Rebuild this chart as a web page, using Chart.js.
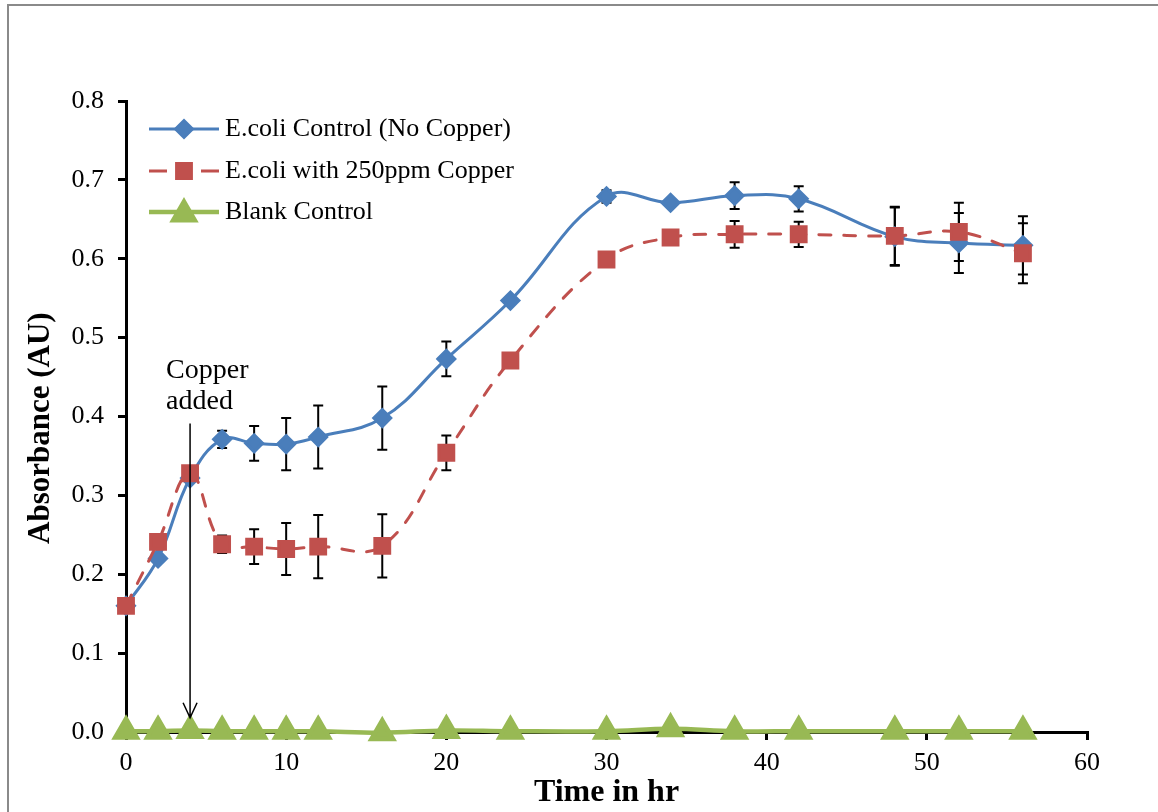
<!DOCTYPE html>
<html>
<head>
<meta charset="utf-8">
<script src="https://cdn.jsdelivr.net/npm/chart.js@4.4.1/dist/chart.umd.min.js"></script>
<style>
  body { margin: 0; background: #fff; overflow: hidden; }
  #wrap { position: relative; width: 1158px; height: 812px; }
  #frame { position: absolute; left: 7px; top: 4px; width: 1300px; height: 1000px;
           border-left: 2px solid #8a8a8a; border-top: 2px solid #8a8a8a; }
  canvas { position: absolute; left: 0; top: 0; }
</style>
</head>
<body>
<div id="wrap">
  <div id="frame"></div>
  <canvas id="growth" width="1158" height="812"></canvas>
</div>
<script>
// sampling times (hr)
const times = [0, 2, 4, 6, 8, 10, 12, 16, 20, 24, 30, 34, 38, 42, 48, 52, 56];

// absorbance readings
const control    = [0.160, 0.220, 0.322, 0.371, 0.366, 0.365, 0.374, 0.398, 0.473, 0.547, 0.679, 0.671, 0.680, 0.676, 0.628, 0.620, 0.617];
const controlErr = [0.003, 0.005, 0.005, 0.011, 0.022, 0.033, 0.040, 0.040, 0.022, 0.003, 0.008, 0.002, 0.017, 0.016, 0.037, 0.038, 0.037];
const copper     = [0.160, 0.241, 0.328, 0.238, 0.235, 0.232, 0.235, 0.236, 0.354, 0.471, 0.599, 0.627, 0.631, 0.631, 0.629, 0.634, 0.607];
const copperErr  = [0.003, 0.004, 0.004, 0.011, 0.022, 0.033, 0.040, 0.040, 0.022, 0.002, 0.003, 0.003, 0.017, 0.016, 0.037, 0.037, 0.038];
const blank      = [0.001, 0.001, 0.002, 0.001, 0.001, 0.001, 0.001, -0.001, 0.002, 0.001, 0.001, 0.004, 0.001, 0.001, 0.001, 0.001, 0.001];

// axis ticks
const xTicks = [0, 10, 20, 30, 40, 50, 60];
const yTicks = [0.0, 0.1, 0.2, 0.3, 0.4, 0.5, 0.6, 0.7, 0.8];

const seriesNames = ['E.coli Control (No Copper)', 'E.coli with 250ppm Copper', 'Blank Control'];
const copperAddedAt = 4;

const BLUE = '#4A7EBB', RED = '#C0504D', GREEN = '#98B954';
const SERIF = "'Liberation Serif', 'Times New Roman', serif";

Chart.defaults.font.family = SERIF;
Chart.defaults.color = '#000';

const toXY = vals => vals.map((v, i) => ({ x: times[i], y: v }));

// error bars, drawn under the lines and markers
const errorBars = {
  id: 'errorBars',
  beforeDatasetsDraw(chart) {
    const { ctx, scales: { x, y } } = chart;
    ctx.save();
    ctx.strokeStyle = '#000';
    ctx.lineWidth = 2;
    chart.data.datasets.forEach(ds => {
      if (!ds.errors) return;
      ds.data.forEach((p, i) => {
        const e = ds.errors[i];
        const px = x.getPixelForValue(p.x);
        const top = y.getPixelForValue(p.y + e);
        const bot = y.getPixelForValue(p.y - e);
        ctx.beginPath();
        ctx.moveTo(px, top); ctx.lineTo(px, bot);
        ctx.moveTo(px - 5, top); ctx.lineTo(px + 5, top);
        ctx.moveTo(px - 5, bot); ctx.lineTo(px + 5, bot);
        ctx.stroke();
      });
    });
    ctx.restore();
  }
};

// "Copper added" note with the arrow
const copperNote = {
  id: 'copperNote',
  afterDatasetsDraw(chart) {
    const { ctx, scales: { x, y } } = chart;
    const ax = x.getPixelForValue(copperAddedAt);
    const y1 = y.getPixelForValue(0.391);
    const y2 = y.getPixelForValue(0.018);
    ctx.save();
    ctx.strokeStyle = '#000';
    ctx.lineWidth = 1.5;
    ctx.beginPath();
    ctx.moveTo(ax, y1); ctx.lineTo(ax, y2);
    ctx.moveTo(ax - 7, y2 - 15); ctx.lineTo(ax, y2); ctx.lineTo(ax + 7, y2 - 15);
    ctx.stroke();
    ctx.fillStyle = '#000';
    ctx.font = '28px ' + SERIF;
    ctx.textAlign = 'left';
    ctx.textBaseline = 'alphabetic';
    const tx = x.getPixelForValue(2.5);
    ctx.fillText('Copper', tx, y.getPixelForValue(0.449));
    ctx.fillText('added', tx, y.getPixelForValue(0.409));
    ctx.restore();
  }
};

// Excel style legend: line sample with marker in the middle
const lineLegend = {
  id: 'lineLegend',
  afterDraw(chart) {
    const { ctx } = chart;
    const x0 = 149, x1 = 219, rows = [129, 171, 212];
    ctx.save();
    chart.data.datasets.forEach((ds, i) => {
      const yy = rows[i];
      ctx.strokeStyle = ds.borderColor;
      ctx.lineWidth = ds.borderWidth;
      ctx.lineCap = 'butt';
      ctx.setLineDash(ds.borderDash && ds.borderDash.length ? [18, 34] : []);
      ctx.beginPath();
      ctx.moveTo(x0, yy); ctx.lineTo(x1, yy);
      ctx.stroke();
      ctx.setLineDash([]);
      Chart.helpers.drawPoint(ctx, {
        pointStyle: ds.pointStyle, radius: ds.pointRadius, borderWidth: 1, rotation: 0
      }, (x0 + x1) / 2, yy + (ds.pointStyle === 'triangle' ? 2 : 0));
      ctx.fillStyle = ds.pointBackgroundColor;
      ctx.strokeStyle = ds.pointBorderColor;
      ctx.lineWidth = 1;
      ctx.fill();
      ctx.stroke();
      ctx.fillStyle = '#000';
      ctx.font = '26px ' + SERIF;
      ctx.textBaseline = 'middle';
      ctx.fillText(seriesNames[i], 225, yy);
    });
    ctx.restore();
  }
};

const axisLine = { color: '#000', width: 3 };
const tickGrid = { drawOnChartArea: false, drawTicks: true, tickLength: 8, color: '#000', lineWidth: 3 };

new Chart(document.getElementById('growth'), {
  type: 'line',
  data: {
    datasets: [{
      label: seriesNames[0],
      data: toXY(control),
      errors: controlErr,
      borderColor: BLUE,
      borderWidth: 3,
      pointStyle: 'rectRot',
      pointRadius: 8.5,
      pointBackgroundColor: BLUE,
      pointBorderColor: BLUE,
      tension: 0.4,
      clip: false,
      order: 2
    }, {
      label: seriesNames[1],
      data: toXY(copper),
      errors: copperErr,
      borderColor: RED,
      borderWidth: 3,
      borderDash: [12, 13],
      borderCapStyle: 'round',
      pointStyle: 'rect',
      pointRadius: 10.5,
      pointBackgroundColor: RED,
      pointBorderColor: RED,
      tension: 0.4,
      clip: false,
      order: 1
    }, {
      label: seriesNames[2],
      data: toXY(blank),
      borderColor: GREEN,
      borderWidth: 4.5,
      pointStyle: 'triangle',
      pointRadius: 12.5,
      pointBackgroundColor: GREEN,
      pointBorderColor: GREEN,
      tension: 0.4,
      clip: false,
      order: 0
    }]
  },
  options: {
    responsive: false,
    animation: false,
    events: [],
    layout: { padding: { left: 0, top: 101, right: 71, bottom: 0 } },
    plugins: { legend: { display: false }, tooltip: { enabled: false } },
    scales: {
      x: {
        type: 'linear',
        min: 0, max: 60,
        afterBuildTicks: s => { s.ticks = xTicks.map(v => ({ value: v })); },
        afterFit: s => { s.height = 80; },
        ticks: { font: { size: 26 }, padding: 8, maxRotation: 0 },
        grid: tickGrid,
        border: axisLine,
        title: { display: true, text: 'Time in hr', font: { size: 32, weight: 'bold' }, padding: { top: 0, bottom: 0 } }
      },
      y: {
        min: 0, max: 0.8,
        afterBuildTicks: s => { s.ticks = yTicks.map(v => ({ value: v })); },
        afterFit: s => { s.width = 126; },
        ticks: { font: { size: 26 }, padding: 14, callback: v => v.toFixed(1) },
        grid: tickGrid,
        border: axisLine,
        title: { display: true, text: 'Absorbance (AU)   ', font: { size: 31, weight: 'bold' }, padding: { top: 22, bottom: 0 } }
      }
    }
  },
  plugins: [errorBars, copperNote, lineLegend]
});
</script>
</body>
</html>
